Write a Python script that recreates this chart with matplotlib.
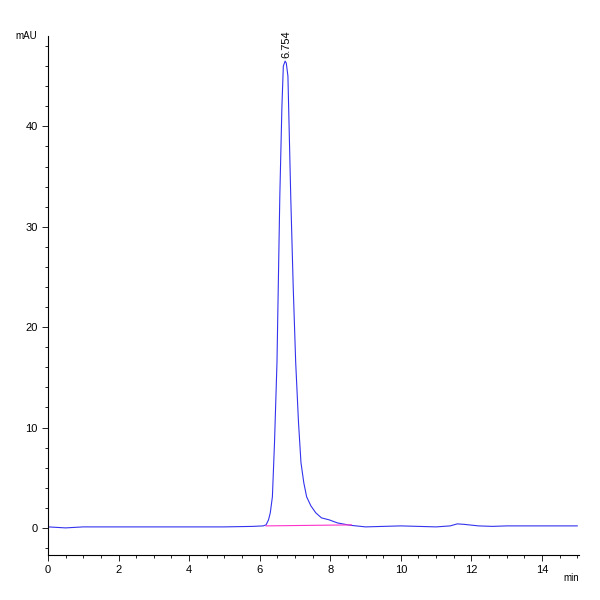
import numpy as np
import matplotlib
matplotlib.use("Agg")
import matplotlib.pyplot as plt
from matplotlib.ticker import MultipleLocator

plt.rcParams['font.family'] = ['Liberation Sans Narrow', 'Liberation Sans', 'DejaVu Sans']

# trace (min, mAU)
t = [0.0, 0.5, 1.0, 2.0, 3.0, 4.0, 5.0, 5.8, 6.1, 6.18, 6.25, 6.3, 6.36, 6.42, 6.49,
     6.57, 6.63, 6.67, 6.72, 6.754, 6.8, 6.88, 6.95, 7.02, 7.1, 7.17, 7.25, 7.33,
     7.45, 7.59, 7.75, 7.97, 8.2, 8.5, 8.6, 9.0, 10.0, 11.0, 11.4, 11.6, 11.8,
     12.2, 12.6, 13.0, 14.0, 15.0]
mau = [0.1, 0.0, 0.1, 0.1, 0.1, 0.1, 0.1, 0.15, 0.2, 0.3, 0.8, 1.5, 3.1, 8.5, 16.5,
       33.0, 42.0, 46.0, 46.5, 46.3, 45.0, 33.0, 24.0, 16.5, 10.5, 6.5, 4.5, 3.1,
       2.2, 1.5, 1.0, 0.8, 0.5, 0.3, 0.25, 0.1, 0.2, 0.1, 0.2, 0.4, 0.35,
       0.2, 0.15, 0.2, 0.2, 0.2]
base_t = [6.18, 8.6]
base_y = [0.2, 0.3]
peak_t = 6.754
peak_h = 46.5

fig, ax = plt.subplots(figsize=(6, 6), dpi=100)
fig.subplots_adjust(left=0.08, right=0.965, top=0.94, bottom=0.075)
ax.plot(t, mau, color='#3333ee', lw=0.8)
ax.plot(base_t, base_y, color='#ff33cc', lw=0.8)
ax.text(peak_t, peak_h + 0.3, f"{peak_t:.3f}", rotation=90, ha='center', va='bottom', fontsize=8)

ax.set_xlim(0, 15.05)
ax.set_ylim(-2.7, 49)
ax.xaxis.set_major_locator(MultipleLocator(2))
ax.xaxis.set_minor_locator(MultipleLocator(0.5))
ax.yaxis.set_major_locator(MultipleLocator(10))
ax.yaxis.set_minor_locator(MultipleLocator(2))
ax.tick_params(labelsize=8, length=4, width=0.6)
ax.tick_params(which='minor', length=2.5, width=0.6)
for s in ['top', 'right']:
    ax.spines[s].set_visible(False)
for s in ['left', 'bottom']:
    ax.spines[s].set_linewidth(0.8)
ax.text(-0.02, 1.0, "mAU", transform=ax.transAxes, ha='right', va='center', fontsize=7)
ax.text(1.0, -0.035, "min", transform=ax.transAxes, ha='right', va='top', fontsize=7)

plt.savefig("out.png")
